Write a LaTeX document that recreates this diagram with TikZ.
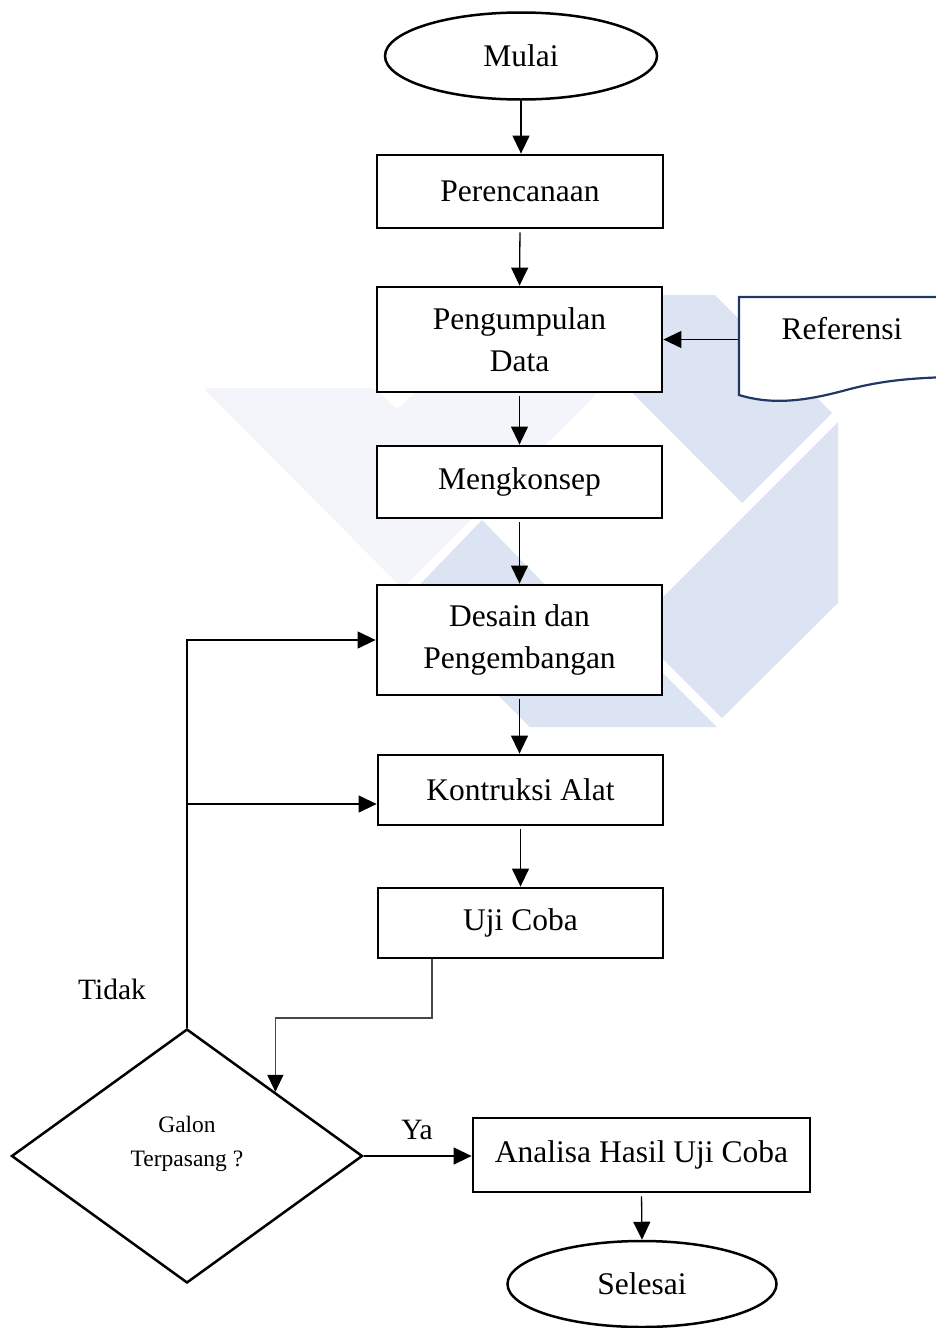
\documentclass[tikz,border=0pt]{standalone}
\usepackage{fontspec}
\setmainfont{Liberation Serif}
\usetikzlibrary{shapes.geometric,arrows.meta,calc}
\definecolor{wmdark}{RGB}{220,227,242}
\definecolor{wmpale}{RGB}{243,245,250}
\definecolor{docblue}{RGB}{32,56,100}
\begin{document}
\begin{tikzpicture}[x=1pt,y=-1pt,
  box/.style={draw, line width=2.8pt, fill=white, minimum width=285pt, inner sep=0pt,
    font=\fontsize{31.5}{42}\selectfont, align=center},
  term/.style={ellipse, draw, line width=2.5pt, fill=white, minimum width=272pt,
    minimum height=87pt, inner sep=0pt, font=\fontsize{31.5}{42}\selectfont},
  arr/.style={line width=1.3pt, shorten <=3pt, -{Triangle[length=18pt,width=17pt]}},
  arrg/.style={line width=1.3pt, draw=black!72, -{Triangle[length=17pt,width=16pt,fill=black,color=black]}},
  lbl/.style={font=\fontsize{29.5}{35}\selectfont, inner sep=0pt},
  dtxt/.style={font=\fontsize{23.5}{34}\selectfont, inner sep=0pt, align=center}]
\useasboundingbox (0,0) rectangle (936,1328);
\fill[white] (0,0) rectangle (936,1328);
% watermark
\fill[wmpale, rounded corners=5pt] (203,388) -- (375,388) -- (397,410) -- (419,388) -- (602,388) -- (402,588) -- cycle;
\fill[wmdark] (535,295) -- (715,295) -- (832,413) -- (742,503) -- cycle;
\fill[wmdark] (838,422) -- (838,603) -- (722,718) -- (632,628) -- cycle;
\fill[wmdark] (482,520) -- (404,601) -- (530,727) -- (717,727) -- (645,655) -- (560,600) -- cycle;
% document shape
\draw[docblue, line width=2.2pt, fill=white] (950,297) -- (739,297) -- (739,395)
  .. controls (775,406) and (810,400) .. (850,389)
  .. controls (885,380) and (915,378) .. (950,377);
\node[minimum width=198pt, minimum height=98pt, inner sep=0pt] (ref) at (837,346) {};
\node[font=\fontsize{31.5}{42}\selectfont, inner sep=0pt] (reft) at (842,329) {Referensi};
% nodes
\node[term] (mulai) at (521,56) {Mulai};
\node[box, minimum width=286pt, minimum height=73pt] (per) at (520,191.5) {Perencanaan};
\node[box, minimum height=105pt] (pd) at (519.5,339.5) {Pengumpulan\\Data};
\node[box, minimum height=72pt] (mk) at (519.5,482) {Mengkonsep};
\node[box, minimum height=110pt] (ds) at (519.5,640) {Desain dan\\Pengembangan};
\node[box, minimum height=70pt] (ka) at (520.5,790) {Kontruksi Alat};
\node[box, minimum height=70pt] (uj) at (520.5,923) {Uji Coba};
\node[diamond, draw, line width=2.5pt, fill=white, minimum width=351pt, minimum height=254pt, inner sep=0pt] (d) at (187,1156) {};
\node[dtxt] (dq) at (187,1144) {Galon\\Terpasang ?};
\node[box, minimum width=337pt, minimum height=74pt] (an) at (641.5,1155) {Analisa Hasil Uji Coba};
\node[term, minimum width=269pt, minimum height=86pt] (sel) at (642,1284) {Selesai};
\node[lbl] (tidak) at (112,989) {Tidak};
\node[lbl] (ya) at (417,1130) {Ya};
% connectors
\draw[arr, shorten <=0pt] (mulai.south) -- (per.north -| mulai.south);
\draw[arr] (per.south) -- (pd.north);
\draw[arr, shorten <=0pt] (ref.west |- pd.east) -- (pd.east);
\draw[arr] (pd.south) -- (mk.north);
\draw[arr] (mk.south) -- (ds.north);
\draw[arr] (ds.south) -- (ka.north -| ds.south);
\draw[arr] (ka.south) -- (uj.north);
\coordinate (uc) at (432,1018);
\draw[arrg] (uc |- uj.south) -- (uc) -| (d.north east);
\draw[arr, shorten <=0pt] (d.north) |- (ds.west);
\coordinate (kb) at (187,804);
\draw[arr, shorten <=0pt] (kb) -- (kb -| ka.west);
\draw[arr, shorten <=0pt] (d.east) -- (d.east -| an.west);
\draw[arr] (an.south) -- (sel.north);
\end{tikzpicture}
\end{document}
